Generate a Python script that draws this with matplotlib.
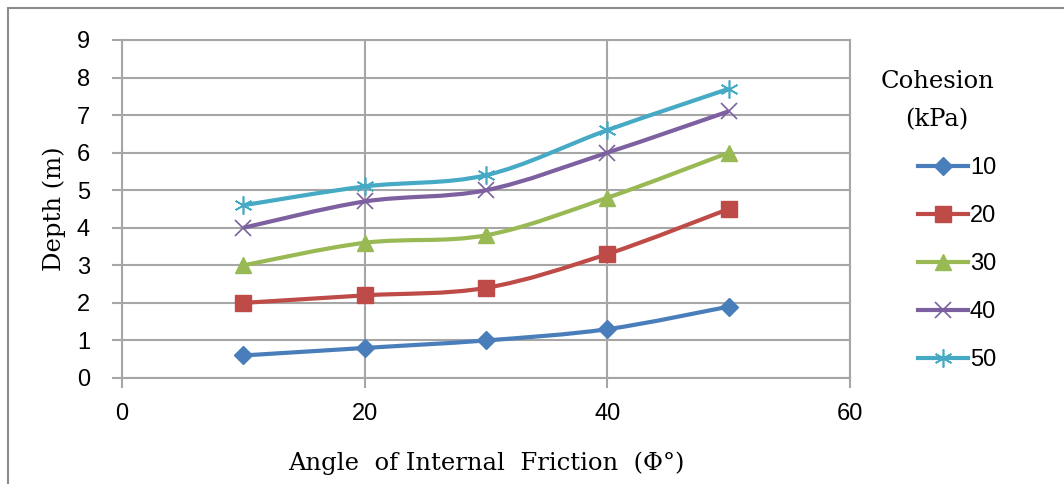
import numpy as np
import matplotlib
matplotlib.use("Agg")
import matplotlib.pyplot as plt
from matplotlib.path import Path
from matplotlib.patches import PathPatch, Rectangle
from matplotlib.lines import Line2D
from matplotlib import font_manager

# data
angle = [10, 20, 30, 40, 50]
c10 = [0.6, 0.8, 1.0, 1.3, 1.9]
c20 = [2.0, 2.2, 2.4, 3.3, 4.5]
c30 = [3.0, 3.6, 3.8, 4.8, 6.0]
c40 = [4.0, 4.7, 5.0, 6.0, 7.1]
c50 = [4.6, 5.1, 5.4, 6.6, 7.7]
labels = ['10', '20', '30', '40', '50']

colors = ['#4A7EBB', '#BE4B48', '#98B954', '#7D60A0', '#46AAC5']
markers = ['D', 's', '^', 'x', (6, 2, 0)]
msizes = [9, 12, 12, 11, 13]

serif = 'DejaVu Serif'
names = {f.name for f in font_manager.fontManager.ttflist}
narrow = 'Liberation Sans Narrow' in names
sans = 'Liberation Sans Narrow' if narrow else 'Liberation Sans'
num_size = 20 if narrow else 17


def smooth_path(xs, ys):
    # Excel-like smoothed line: cubic Bezier segments through the points
    pts = np.column_stack([xs, ys]).astype(float)
    n = len(pts)
    verts = [pts[0]]
    codes = [Path.MOVETO]
    for i in range(n - 1):
        p0 = pts[i - 1] if i > 0 else pts[i]
        p1 = pts[i]
        p2 = pts[i + 1]
        p3 = pts[i + 2] if i + 2 < n else pts[i + 1]
        verts += [p1 + (p2 - p0) / 6, p2 - (p3 - p1) / 6, p2]
        codes += [Path.CURVE4] * 3
    return Path(verts, codes)


fig = plt.figure(figsize=(10.64, 4.84), dpi=100)
ax = fig.add_axes([122 / 1064, 1 - 378 / 484, 728 / 1064, 338 / 484])

# outer chart border (top and left visible)
fig.patches.append(Rectangle((8 / 1064, -0.1), 1.2, 0.1 + 1 - 8 / 484, transform=fig.transFigure,
                             fill=False, edgecolor='#8c8c8c', lw=1.5))

handles = []
for ys, col, mk, ms, lab in zip([c10, c20, c30, c40, c50], colors, markers, msizes, labels):
    ax.add_patch(PathPatch(smooth_path(angle, ys), fill=False, edgecolor=col, lw=3, zorder=3))
    if mk in ('x', (6, 2, 0)):
        ax.plot(angle, ys, linestyle='none', marker=mk, ms=ms, mec=col, mew=1.2, zorder=4)
        h = Line2D([], [], color=col, lw=3, marker=mk, ms=ms, mec=col, mew=1.2)
    else:
        ax.plot(angle, ys, linestyle='none', marker=mk, ms=ms, mfc=col, mec=col, zorder=4)
        h = Line2D([], [], color=col, lw=3, marker=mk, ms=ms, mfc=col, mec=col)
    handles.append(h)

ax.set_xlim(0, 60)
ax.set_ylim(0, 9)
ax.set_xticks([0, 20, 40, 60])
ax.set_yticks(range(10))
ax.grid(True, color='#a6a6a6', lw=1.5)
ax.set_axisbelow(True)
for sp in ax.spines.values():
    sp.set_color('#a6a6a6')
    sp.set_linewidth(1.5)
ax.tick_params(axis='both', direction='out', color='#a6a6a6', width=1.5, labelsize=num_size)
ax.tick_params(axis='y', length=7, pad=16)
ax.tick_params(axis='x', length=7, pad=11)
for t in ax.get_xticklabels() + ax.get_yticklabels():
    t.set_fontfamily(sans)

ax.set_xlabel('Angle  of Internal  Friction  (\u03a6\u00b0)', fontsize=17.5, family=serif, labelpad=19)
ax.set_ylabel('Depth (m)', fontsize=17.5, family=serif, labelpad=8)

fig.text(937 / 1064, 1 - 82 / 484, 'Cohesion', ha='center', va='center', fontsize=17.5, family=serif)
fig.text(937 / 1064, 1 - 120 / 484, '(kPa)', ha='center', va='center', fontsize=17.5, family=serif)

leg = fig.legend(handles, labels, loc='upper left', bbox_to_anchor=(918 / 1064, 1 - 157 / 484),
                 frameon=False, borderpad=0, borderaxespad=0, handlelength=2.1, handletextpad=0.1,
                 labelspacing=1.1, prop={'family': sans, 'size': num_size})

fig.savefig('out.png', dpi=100)
